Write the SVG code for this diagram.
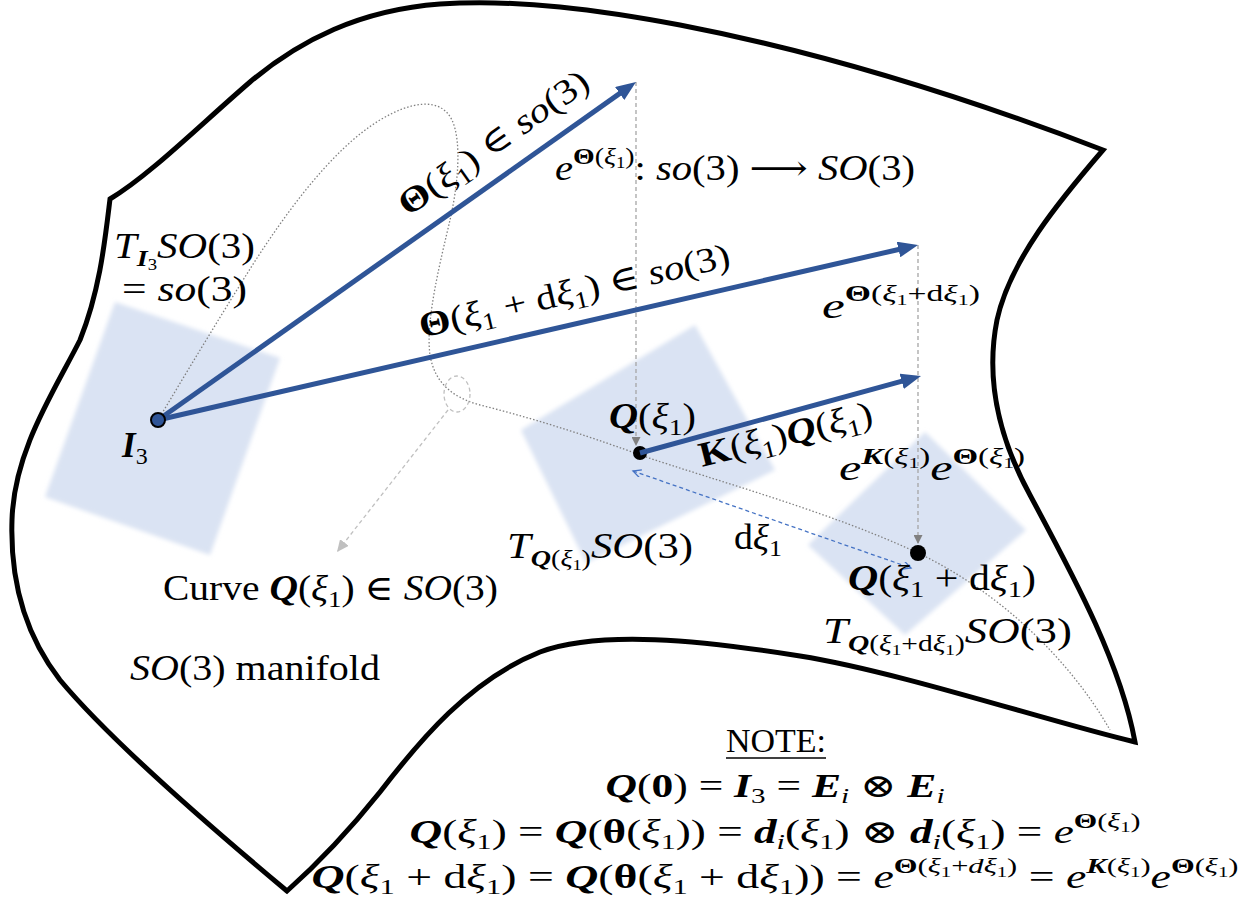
<svg xmlns="http://www.w3.org/2000/svg" width="1247" height="909" viewBox="0 0 1247 909">
<defs>
<style>
.tx{font-family:"Liberation Serif","DejaVu Serif",serif;font-size:35px;fill:#000}
.nt{font-size:33px}
.it{font-style:italic}
.bf{font-weight:bold}
.patch{fill:#DAE3F3;filter:url(#soft)}
.outline{fill:none;stroke:#000;stroke-width:5;stroke-linejoin:miter}
.curve{fill:none;stroke:#808080;stroke-width:1.3;stroke-dasharray:1.5 2}
.blue{stroke:#2F5597;stroke-width:5;fill:none;marker-end:url(#ab)}
.gv{stroke:#A6A6A6;stroke-width:1.3;stroke-dasharray:4 3;fill:none;marker-end:url(#ag)}
.lg{stroke:#C0C0C0;stroke-width:1.3;stroke-dasharray:4 3;fill:none}
.bd{stroke:#4472C4;stroke-width:1.3;stroke-dasharray:4 3;fill:none;marker-start:url(#ad);marker-end:url(#ad)}
</style>
<filter id="soft" x="-10%" y="-10%" width="120%" height="120%"><feGaussianBlur stdDeviation="2"/></filter>
<marker id="ab" markerUnits="userSpaceOnUse" markerWidth="21" markerHeight="16" refX="8" refY="8" orient="auto"><path d="M0,0 L20,8 L0,16 z" fill="#2F5597"/></marker>
<marker id="ag" markerUnits="userSpaceOnUse" markerWidth="10" markerHeight="9" refX="9" refY="4.5" orient="auto"><path d="M0,0 L9,4.5 L0,9 z" fill="#808080"/></marker>
<marker id="al" markerUnits="userSpaceOnUse" markerWidth="13" markerHeight="11" refX="12" refY="5.5" orient="auto"><path d="M0,0 L12,5.5 L0,11 z" fill="#C0C0C0"/></marker>
<marker id="ad" markerUnits="userSpaceOnUse" markerWidth="10" markerHeight="10" refX="8" refY="4" orient="auto-start-reverse"><path d="M0,0 L8,4 L0,8" fill="none" stroke="#4472C4" stroke-width="1.3"/></marker>
</defs>
<rect width="1247" height="909" fill="#fff"/>

<g id="manifold">
<path class="outline" d="M110,199 C150,175 200,125 250,82 C300,40 360,10 440,4 C520,-1 600,10 680,25 C820,52 960,95 1103,150 C1060,200 1010,260 997,320 C985,380 1000,440 1030,495 C1070,570 1120,660 1135,742 C1050,722 900,672 800,656 C700,640 600,630 540,652 C470,680 420,740 380,792 C340,842 305,875 287,891 C220,835 110,740 60,680 C25,635 10,580 12,520 C14,450 55,390 80,340 C100,290 105,240 110,199 Z"/>
</g>

<g id="tangent-planes">
<polygon id="plane-I3" class="patch" points="115,302 280,358 210,555 45,497"/>
<polygon id="plane-Q1" class="patch" points="695,325 775,470 586,563 521,430"/>
<polygon id="plane-Q2" class="patch" points="925,432 1026,530 905,635 808,545"/>
</g>

<g id="curve">
<path class="curve" d="M158,420 C185,375 215,325 240,285 C280,220 330,150 380,120 C410,102 440,96 452,120 C462,142 458,185 450,220 C442,255 425,320 430,355 C435,385 455,398 480,405 C540,420 600,440 640,455 C720,482 830,512 918,553 C1000,592 1070,660 1110,730"/>
<ellipse class="lg" cx="457" cy="394" rx="13" ry="18"/>
</g>

<g id="connectors">
<line class="gv" x1="636" y1="82" x2="636" y2="446"/>
<line class="gv" x1="918" y1="245" x2="918" y2="544"/>
<line class="lg" x1="448" y1="410" x2="337" y2="552" style="marker-end:url(#al)"/>
<line class="bd" x1="633" y1="471" x2="911" y2="568"/>
<line class="blue" x1="158" y1="420" x2="626.2" y2="88.9"/>
<line class="blue" x1="158" y1="420" x2="906.3" y2="247.7"/>
<line class="blue" x1="640" y1="453" x2="909.4" y2="379.2"/>
</g>

<g id="node-I3">
<circle cx="158" cy="420" r="7" fill="#2F5597" stroke="#000" stroke-width="2"/>
<text class="tx" x="122" y="457"><tspan class="bf it">I</tspan><tspan font-size="24" dy="7">3</tspan></text>
</g>
<g id="node-Q1">
<circle cx="640" cy="453" r="7" fill="#000"/>
<path d="M640,453 L647,451" stroke="#2F5597" stroke-width="5"/>
<text class="tx" x="609" y="428" textLength="87" lengthAdjust="spacingAndGlyphs"><tspan class="bf it">Q</tspan>(<tspan class="it">ξ</tspan><tspan font-size="24" dy="7">1</tspan><tspan dy="-7">)</tspan></text>
</g>
<g id="node-Q2">
<circle cx="918" cy="553" r="8" fill="#000"/>
<text class="tx" x="848" y="590" textLength="188" lengthAdjust="spacingAndGlyphs"><tspan class="bf it">Q</tspan>(<tspan class="it">ξ</tspan><tspan font-size="24" dy="7">1</tspan><tspan dy="-7"> + d</tspan><tspan class="it">ξ</tspan><tspan font-size="24" dy="7">1</tspan><tspan dy="-7">)</tspan></text>
</g>

<g id="labels">
<text class="tx" x="114" y="258" textLength="141" lengthAdjust="spacingAndGlyphs"><tspan class="it">T</tspan><tspan class="it bf" font-size="24" dy="8">I</tspan><tspan font-size="16" dy="4">3</tspan><tspan class="it" dy="-12">SO</tspan>(3)</text>
<text class="tx" x="122" y="301" textLength="125" lengthAdjust="spacingAndGlyphs">= <tspan class="it">so</tspan>(3)</text>
<text class="tx" text-anchor="middle" transform="translate(500,152) rotate(-35.3)" textLength="225" lengthAdjust="spacingAndGlyphs"><tspan class="bf">Θ</tspan>(<tspan class="it">ξ</tspan><tspan font-size="24" dy="7">1</tspan><tspan dy="-7">) ∈ </tspan><tspan class="it">so</tspan>(3)</text>
<text class="tx" text-anchor="middle" transform="translate(577,302) rotate(-13)" textLength="318" lengthAdjust="spacingAndGlyphs"><tspan class="bf">Θ</tspan>(<tspan class="it">ξ</tspan><tspan font-size="24" dy="7">1</tspan><tspan dy="-7"> + d</tspan><tspan class="it">ξ</tspan><tspan font-size="24" dy="7">1</tspan><tspan dy="-7">) ∈ </tspan><tspan class="it">so</tspan>(3)</text>
<text class="tx" x="555" y="180" textLength="360" lengthAdjust="spacingAndGlyphs"><tspan class="it">e</tspan><tspan font-size="24" dy="-16"><tspan class="bf">Θ</tspan>(<tspan class="it">ξ</tspan><tspan font-size="16" dy="4">1</tspan><tspan dy="-4">)</tspan></tspan><tspan dy="16">: </tspan><tspan class="it">so</tspan>(3) ⟶ <tspan class="it">SO</tspan>(3)</text>
<text class="tx" x="822" y="318" textLength="158" lengthAdjust="spacingAndGlyphs"><tspan class="it">e</tspan><tspan font-size="23" dy="-17"><tspan class="bf">Θ</tspan>(<tspan class="it">ξ</tspan><tspan font-size="15" dy="4">1</tspan><tspan dy="-4">+d</tspan><tspan class="it">ξ</tspan><tspan font-size="15" dy="4">1</tspan><tspan dy="-4">)</tspan></tspan></text>
<text class="tx" transform="translate(702,467) rotate(-14)" textLength="178" lengthAdjust="spacingAndGlyphs"><tspan class="bf">K</tspan>(<tspan class="it">ξ</tspan><tspan font-size="24" dy="7">1</tspan><tspan dy="-7">)</tspan><tspan class="bf it">Q</tspan>(<tspan class="it">ξ</tspan><tspan font-size="24" dy="7">1</tspan><tspan dy="-7">)</tspan></text>
<text class="tx" x="839" y="480" textLength="186" lengthAdjust="spacingAndGlyphs"><tspan class="it">e</tspan><tspan font-size="23" dy="-16"><tspan class="bf it">K</tspan>(<tspan class="it">ξ</tspan><tspan font-size="15" dy="4">1</tspan><tspan dy="-4">)</tspan></tspan><tspan class="it" dy="16">e</tspan><tspan font-size="23" dy="-16"><tspan class="bf">Θ</tspan>(<tspan class="it">ξ</tspan><tspan font-size="15" dy="4">1</tspan><tspan dy="-4">)</tspan></tspan></text>
<text class="tx" x="734" y="549" textLength="48" lengthAdjust="spacingAndGlyphs">d<tspan class="it">ξ</tspan><tspan font-size="24" dy="7">1</tspan></text>
<text class="tx" x="507" y="558" textLength="186" lengthAdjust="spacingAndGlyphs"><tspan class="it">T</tspan><tspan font-size="23" dy="8"><tspan class="bf it">Q</tspan>(<tspan class="it">ξ</tspan><tspan font-size="15" dy="4">1</tspan><tspan dy="-4">)</tspan></tspan><tspan class="it" dy="-8">SO</tspan>(3)</text>
<text class="tx" x="823" y="643" textLength="249" lengthAdjust="spacingAndGlyphs"><tspan class="it">T</tspan><tspan font-size="23" dy="8"><tspan class="bf it">Q</tspan>(<tspan class="it">ξ</tspan><tspan font-size="15" dy="4">1</tspan><tspan dy="-4">+d</tspan><tspan class="it">ξ</tspan><tspan font-size="15" dy="4">1</tspan><tspan dy="-4">)</tspan></tspan><tspan class="it" dy="-8">SO</tspan>(3)</text>
<text class="tx" x="163" y="600" textLength="335" lengthAdjust="spacingAndGlyphs">Curve <tspan class="bf it">Q</tspan>(<tspan class="it">ξ</tspan><tspan font-size="24" dy="7">1</tspan><tspan dy="-7">) ∈ </tspan><tspan class="it">SO</tspan>(3)</text>
<text class="tx" x="130" y="680" textLength="250" lengthAdjust="spacingAndGlyphs"><tspan class="it">SO</tspan>(3) manifold</text>
</g>

<g id="note">
<text class="tx nt" x="776" y="752" text-anchor="middle" textLength="100" lengthAdjust="spacingAndGlyphs">NOTE:</text>
<line x1="726" y1="758" x2="826" y2="758" stroke="#000" stroke-width="1.6"/>
<text class="tx nt" x="775" y="797" text-anchor="middle" textLength="339" lengthAdjust="spacingAndGlyphs"><tspan class="bf it">Q</tspan>(<tspan class="bf">0</tspan>) = <tspan class="bf it">I</tspan><tspan font-size="22" dy="6">3</tspan><tspan dy="-6"> = </tspan><tspan class="bf it">E</tspan><tspan class="it" font-size="22" dy="6">i</tspan><tspan dy="-6"> ⊗ </tspan><tspan class="bf it">E</tspan><tspan class="it" font-size="22" dy="6">i</tspan></text>
<text class="tx nt" x="775" y="843" text-anchor="middle" textLength="731" lengthAdjust="spacingAndGlyphs"><tspan class="bf it">Q</tspan>(<tspan class="it">ξ</tspan><tspan font-size="22" dy="6">1</tspan><tspan dy="-6">) = </tspan><tspan class="bf it">Q</tspan>(<tspan class="bf">θ</tspan>(<tspan class="it">ξ</tspan><tspan font-size="22" dy="6">1</tspan><tspan dy="-6">)) = </tspan><tspan class="bf it">d</tspan><tspan class="it" font-size="22" dy="6">i</tspan><tspan dy="-6">(</tspan><tspan class="it">ξ</tspan><tspan font-size="22" dy="6">1</tspan><tspan dy="-6">) ⊗ </tspan><tspan class="bf it">d</tspan><tspan class="it" font-size="22" dy="6">i</tspan><tspan dy="-6">(</tspan><tspan class="it">ξ</tspan><tspan font-size="22" dy="6">1</tspan><tspan dy="-6">) = </tspan><tspan class="it">e</tspan><tspan font-size="22" dy="-15"><tspan class="bf">Θ</tspan>(<tspan class="it">ξ</tspan><tspan font-size="15" dy="4">1</tspan><tspan dy="-4">)</tspan></tspan></text>
<text class="tx nt" x="775" y="888" text-anchor="middle" textLength="927" lengthAdjust="spacingAndGlyphs"><tspan class="bf it">Q</tspan>(<tspan class="it">ξ</tspan><tspan font-size="22" dy="6">1</tspan><tspan dy="-6"> + d</tspan><tspan class="it">ξ</tspan><tspan font-size="22" dy="6">1</tspan><tspan dy="-6">) = </tspan><tspan class="bf it">Q</tspan>(<tspan class="bf">θ</tspan>(<tspan class="it">ξ</tspan><tspan font-size="22" dy="6">1</tspan><tspan dy="-6"> + d</tspan><tspan class="it">ξ</tspan><tspan font-size="22" dy="6">1</tspan><tspan dy="-6">)) = </tspan><tspan class="it">e</tspan><tspan font-size="22" dy="-15"><tspan class="bf">Θ</tspan>(<tspan class="it">ξ</tspan><tspan font-size="15" dy="4">1</tspan><tspan dy="-4">+</tspan><tspan class="it">dξ</tspan><tspan font-size="15" dy="4">1</tspan><tspan dy="-4">)</tspan></tspan><tspan dy="15"> = </tspan><tspan class="it">e</tspan><tspan font-size="22" dy="-15"><tspan class="bf it">K</tspan>(<tspan class="it">ξ</tspan><tspan font-size="15" dy="4">1</tspan><tspan dy="-4">)</tspan></tspan><tspan class="it" dy="15">e</tspan><tspan font-size="22" dy="-15"><tspan class="bf">Θ</tspan>(<tspan class="it">ξ</tspan><tspan font-size="15" dy="4">1</tspan><tspan dy="-4">)</tspan></tspan></text>
</g>
</svg>
